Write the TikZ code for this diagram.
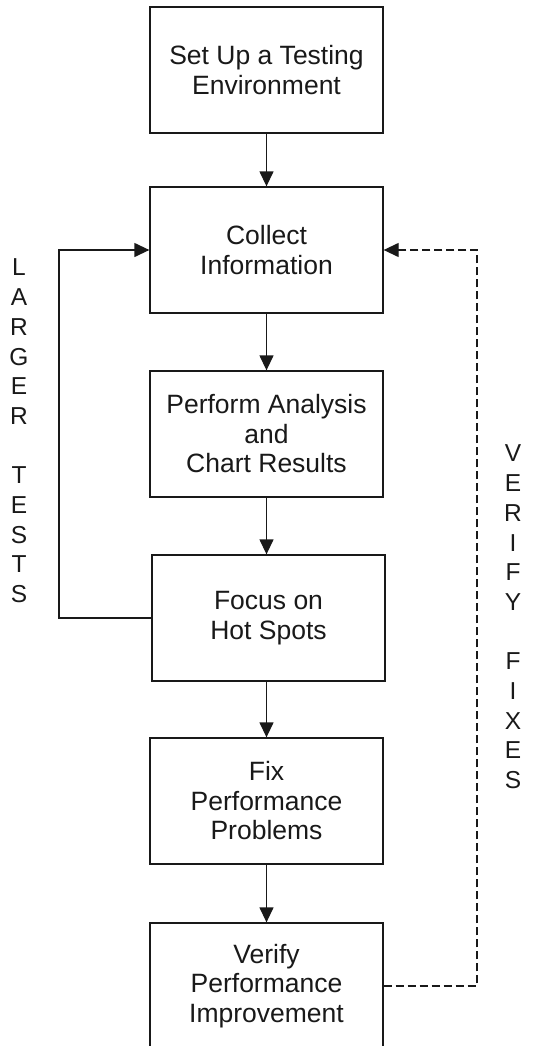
\documentclass[tikz,border=0pt]{standalone}
\usepackage{fontspec}
\setmainfont{Liberation Sans}
\usetikzlibrary{arrows.meta}

\begin{document}
\begin{tikzpicture}[x=1pt, y=-1pt, line width=1.3pt, color={black!90},
  box/.style={rectangle, draw, minimum width=233, minimum height=126, align=center, font=\fontsize{26.5}{29.5}\selectfont},
  tall/.style={align=center, font=\fontsize{24.5}{29.7}\selectfont},
  arr/.style={-{Triangle[length=15pt, width=14pt]}},
  fixloop/.style={dash pattern=on 8pt off 4pt}]
  \useasboundingbox (0,0) rectangle (533,1046);
  \node[box] (setup) at (266.5, 70) {Set Up a Testing\\Environment};
  \node[box] (collect) at (266.5, 250) {Collect\\Information};
  \node[box] (analyze) at (266.5, 434) {Perform Analysis\\and\\Chart Results};
  \node[box] (focus) at (268.5, 618) {Focus on\\Hot Spots};
  \node[box] (fix) at (266.5, 801) {Fix\\Performance\\Problems};
  \node[box] (verify) at (266.5, 986) {Verify\\Performance\\Improvement};
  \node[tall] (larger) at (19, 431) {L\\A\\R\\G\\E\\R\\[29.7pt]T\\E\\S\\T\\S};
  \node[tall] (fixes) at (513, 617) {V\\E\\R\\I\\F\\Y\\[29.7pt]F\\I\\X\\E\\S};
  \coordinate (left) at (59, 618);
  \coordinate (right) at (477, 986);
  \draw[arr] (setup) -- (collect);
  \draw[arr] (collect) -- (analyze);
  \draw[arr] (analyze) -- (focus.north -| analyze);
  \draw[arr] (focus.south -| fix) -- (fix);
  \draw[arr] (fix) -- (verify);
  \draw[arr] (focus.west) -- (left) |- (collect.west);
  \draw[arr, fixloop] (verify.east) -- (right) |- (collect.east);
\end{tikzpicture}
\end{document}
